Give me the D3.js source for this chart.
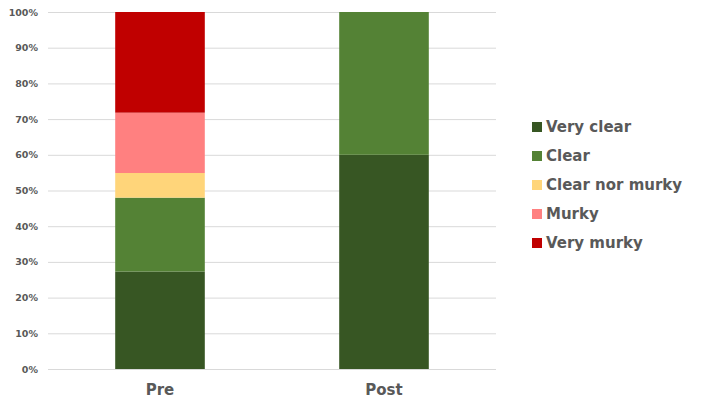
<!DOCTYPE html>
<html>
<head>
<meta charset="utf-8">
<script src="https://cdn.jsdelivr.net/npm/d3@7"></script>
<style>
  html, body { margin: 0; padding: 0; background: #fff; }
  svg { display: block; }
  text { font-family: "DejaVu Sans", sans-serif; font-weight: bold; fill: #595959; }
</style>
</head>
<body>
<svg id="chart" width="705" height="405"></svg>
<script>
// Survey responses before and after, as percent of respondents
const groups = ["Pre", "Post"];
const categories = ["Very clear", "Clear", "Clear nor murky", "Murky", "Very murky"];
const veryClear     = [27.3, 60];
const clear         = [20.7, 40];
const clearNorMurky = [6.9, 0];
const murky         = [16.9, 0];
const veryMurky     = [28.2, 0];
const yTicks = [0, 10, 20, 30, 40, 50, 60, 70, 80, 90, 100];
const colors = ["#375623", "#548235", "#FFD57A", "#FF8080", "#C00000"];

const seriesValues = [veryClear, clear, clearNorMurky, murky, veryMurky];
const rows = groups.map((g, i) => {
  const r = { group: g };
  categories.forEach((c, k) => { r[c] = seriesValues[k][i]; });
  return r;
});

const svg = d3.select("#chart");
const plot = { left: 48, right: 496, top: 12, bottom: 369 };

const x = d3.scaleBand().domain(groups).range([plot.left, plot.right])
  .paddingInner(0.6).paddingOuter(0.3);
const y = d3.scaleLinear().domain([0, 100]).range([plot.bottom, plot.top]);
const color = d3.scaleOrdinal().domain(categories).range(colors);

// gridlines
svg.append("g")
  .selectAll("line").data(yTicks).join("line")
  .attr("x1", plot.left).attr("x2", plot.right)
  .attr("y1", d => y(d) + 0.5).attr("y2", d => y(d) + 0.5)
  .attr("stroke", "#d9d9d9").attr("stroke-width", 1);

// y axis labels
const yAxis = d3.axisLeft(y).tickValues(yTicks).tickFormat(d => d + "%").tickSize(0).tickPadding(10);
const ya = svg.append("g").attr("transform", `translate(${plot.left},0)`).call(yAxis);
ya.select(".domain").remove();
ya.selectAll("text").style("font-size", "9.5px").attr("fill", "#595959")
  .style("font-family", "'DejaVu Sans', sans-serif").style("font-weight", "bold");

// stacked bars
const stack = d3.stack().keys(categories);
const layers = stack(rows);
svg.append("g").selectAll("g").data(layers).join("g")
  .attr("fill", d => color(d.key))
  .selectAll("rect").data(d => d).join("rect")
  .attr("x", d => x(d.data.group))
  .attr("width", x.bandwidth())
  .attr("y", d => y(d[1]))
  .attr("height", d => y(d[0]) - y(d[1]));

// x axis labels
const xAxis = d3.axisBottom(x).tickSize(0).tickPadding(15);
const xa = svg.append("g").attr("transform", `translate(0,${plot.bottom})`).call(xAxis);
xa.select(".domain").remove();
xa.selectAll("text").style("font-size", "15px").attr("fill", "#595959")
  .style("font-family", "'DejaVu Sans', sans-serif").style("font-weight", "bold");

// legend
const legend = svg.append("g").attr("transform", "translate(532,127)");
const items = legend.selectAll("g").data(categories).join("g")
  .attr("transform", (d, i) => `translate(0,${i * 29})`);
items.append("rect").attr("x", 0).attr("y", -5).attr("width", 10).attr("height", 10)
  .attr("fill", d => color(d));
items.append("text").attr("x", 14).attr("y", 0).attr("dy", "0.35em")
  .style("font-size", "15px").text(d => d);
</script>
</body>
</html>
